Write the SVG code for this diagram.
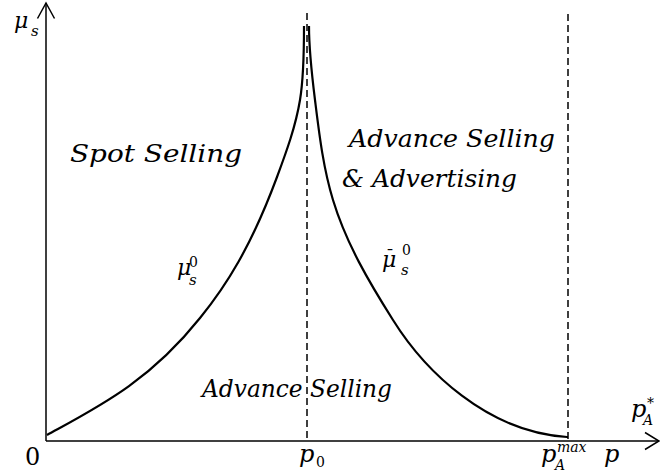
<svg xmlns="http://www.w3.org/2000/svg" width="660" height="475" viewBox="0 0 660 475">
<style>
.ax{stroke:#000;stroke-width:1.5;fill:none}
.dash{stroke:#000;stroke-width:1.5;fill:none;stroke-dasharray:7 4}
.cv{stroke:#000;stroke-width:2.2;fill:none}
text{font-family:"DejaVu Serif",serif;fill:#000}
.it{font-style:italic}
.up{font-style:normal}
.lab{font-size:24px;font-style:italic}
</style>
<rect width="660" height="475" fill="#fff"/>
<g id="axes">
<line class="ax" x1="46" y1="441" x2="46" y2="3"/>
<polyline class="ax" points="37.5,18.5 46,3 54.5,18.5"/>
<line class="ax" x1="46" y1="441" x2="659" y2="441"/>
<polyline class="ax" points="645,432.5 659,441 645,449.5"/>
</g>
<g id="connectors">
<line class="dash" x1="307" y1="13" x2="307" y2="441"/>
<line class="dash" x1="568" y1="14" x2="568" y2="441"/>
<path class="cv" d="M47,435 C98,407 149,382 200,318 C226,286 251,247 277,177 C286.4,151.7 295.6,126.6 300,100 C304,76 304,51 304,26"/>
<path class="cv" d="M309,26 C309,50 312,76 315,100 C319.2,133.7 323.1,167.5 333,200 C346,243 369,282 393,320 C424.8,370.9 487,432 567,437 L568,437"/>
</g>
<g id="region-spot">
<text class="lab" x="70" y="162" textLength="172" lengthAdjust="spacingAndGlyphs">Spot Selling</text>
</g>
<g id="region-advertising">
<text class="lab" x="349" y="147" textLength="206" lengthAdjust="spacingAndGlyphs">Advance Selling</text>
<text class="lab" x="342" y="187" textLength="175" lengthAdjust="spacingAndGlyphs">&amp; Advertising</text>
</g>
<g id="region-advance">
<text class="lab" x="202" y="397" textLength="190" lengthAdjust="spacingAndGlyphs">Advance Selling</text>
</g>
<g id="label-mu-axis">
<text class="it"><tspan x="14" y="28" font-size="22">μ</tspan><tspan x="31" y="36" font-size="15">s</tspan></text>
</g>
<g id="label-mu0">
<text class="it"><tspan x="177" y="275" font-size="22">μ</tspan><tspan class="up" x="189" y="267" font-size="14">0</tspan><tspan x="189" y="285" font-size="15">s</tspan></text>
</g>
<g id="label-mubar0">
<text class="it"><tspan x="382" y="267" font-size="22">μ</tspan><tspan class="up" x="386" y="262" font-size="16">¯</tspan><tspan class="up" x="402" y="255" font-size="14">0</tspan><tspan x="401" y="275" font-size="15">s</tspan></text>
</g>
<g id="label-origin">
<text x="25" y="465" font-size="24">0</text>
</g>
<g id="label-p0">
<text class="it"><tspan x="299" y="462" font-size="24">p</tspan><tspan class="up" x="316" y="467" font-size="14">0</tspan></text>
</g>
<g id="label-pmax">
<text class="it"><tspan x="541" y="462" font-size="24">p</tspan><tspan x="557" y="452" font-size="14">max</tspan><tspan x="555" y="470" font-size="14">A</tspan></text>
</g>
<g id="label-p">
<text class="it" x="604" y="462" font-size="24">p</text>
</g>
<g id="label-pstar">
<text class="it"><tspan x="631" y="417" font-size="24">p</tspan><tspan class="up" x="647" y="408" font-size="14">*</tspan><tspan x="643" y="425" font-size="14">A</tspan></text>
</g>
</svg>
